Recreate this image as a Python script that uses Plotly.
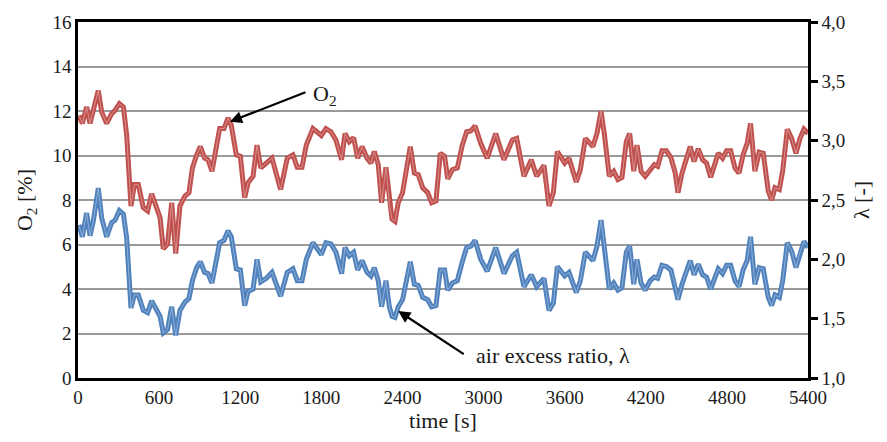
import plotly.graph_objects as go

time_s = [7, 32, 64, 89, 113, 150, 175, 212, 249, 274, 306, 336, 360, 392, 417, 446, 483, 515, 545, 582,
          607, 631, 663, 693, 723, 754, 791, 821, 846, 878, 905, 937, 962, 991, 1048, 1080, 1110, 1134, 1171, 1201,
          1233, 1258, 1295, 1324, 1352, 1393, 1435, 1499, 1548, 1590, 1622, 1657, 1689, 1738, 1800, 1834, 1871, 1908, 1950, 1975,
          2007, 2039, 2069, 2101, 2138, 2167, 2192, 2221, 2246, 2278, 2303, 2323, 2345, 2369, 2401, 2458, 2488, 2517, 2550, 2587,
          2616, 2648, 2680, 2712, 2735, 2769, 2806, 2843, 2875, 2905, 2937, 2979, 3027, 3090, 3151, 3213, 3245, 3299, 3353, 3393,
          3447, 3484, 3516, 3546, 3600, 3632, 3686, 3716, 3753, 3809, 3839, 3869, 3893, 3930, 3963, 3994, 4024, 4056, 4081, 4111,
          4135, 4165, 4196, 4233, 4263, 4288, 4320, 4352, 4386, 4418, 4438, 4468, 4500, 4529, 4557, 4588, 4620, 4650, 4680, 4736,
          4768, 4798, 4828, 4860, 4890, 4920, 4950, 4975, 5007, 5039, 5069, 5106, 5131, 5156, 5188, 5213, 5247, 5279, 5311, 5341,
          5370, 5400]

o2_pct = [11.8, 11.44, 12.18, 11.44, 12.03, 12.92, 11.96, 11.44, 11.88, 12.03, 12.33, 12.18, 10.92, 7.73, 8.7, 8.7, 7.66, 7.51, 8.28, 7.66,
          7.21, 5.81, 6.03, 7.88, 5.59, 7.73, 8.18, 8.33, 9.44, 10.03, 10.4, 9.88, 9.81, 9.29, 11.21, 11.21, 11.69, 11.36, 10.03, 9.96,
          8.1, 8.77, 9.07, 10.47, 9.44, 9.66, 9.88, 8.47, 9.88, 10.03, 9.47, 9.47, 10.47, 11.21, 10.9, 11.21, 11.07, 10.7, 9.81, 10.99,
          10.62, 10.8, 9.88, 10.4, 9.88, 9.66, 10.18, 9.59, 7.88, 9.47, 7.88, 7.14, 7.04, 7.88, 8.33, 10.4, 9.21, 9.14, 8.55, 8.33,
          7.88, 7.96, 10.1, 9.96, 8.95, 9.36, 9.44, 10.47, 11.07, 11.1, 11.33, 10.55, 9.88, 10.99, 9.81, 10.7, 10.77, 9.07, 9.81, 9.07,
          9.56, 7.73, 8.33, 10.18, 9.66, 9.88, 8.81, 9.36, 10.77, 10.4, 10.99, 11.99, 10.99, 9.07, 9.29, 8.92, 9.02, 10.62, 10.99, 9.29,
          10.47, 9.29, 9.07, 9.41, 9.59, 9.51, 10.21, 10.21, 9.91, 9.21, 8.33, 9.21, 9.81, 10.4, 9.73, 10.3, 9.81, 9.66, 9.02, 10.1,
          9.88, 10.21, 10.21, 9.44, 9.21, 10.03, 10.55, 11.44, 9.29, 10.15, 10.1, 8.4, 7.99, 8.55, 8.47, 9.32, 11.18, 10.77, 10.1, 10.77,
          11.18, 10.99]

air_excess = [2.29, 2.19, 2.39, 2.20, 2.32, 2.60, 2.35, 2.19, 2.31, 2.33, 2.41, 2.38, 2.18, 1.59, 1.70, 1.70, 1.57, 1.55, 1.65, 1.57,
              1.52, 1.38, 1.41, 1.60, 1.36, 1.57, 1.64, 1.67, 1.82, 1.93, 1.98, 1.89, 1.88, 1.80, 2.14, 2.16, 2.24, 2.19, 1.92, 1.91,
              1.61, 1.73, 1.75, 2.00, 1.81, 1.84, 1.89, 1.69, 1.89, 1.92, 1.82, 1.82, 2.00, 2.14, 2.04, 2.14, 2.13, 2.06, 1.88, 2.10,
              2.03, 2.06, 1.91, 1.99, 1.89, 1.86, 1.93, 1.82, 1.60, 1.82, 1.60, 1.52, 1.51, 1.60, 1.66, 1.98, 1.79, 1.78, 1.68, 1.66,
              1.60, 1.61, 1.91, 1.91, 1.74, 1.80, 1.82, 1.98, 2.10, 2.11, 2.16, 2.00, 1.90, 2.10, 1.88, 2.03, 2.06, 1.77, 1.87, 1.77,
              1.84, 1.57, 1.63, 1.94, 1.86, 1.89, 1.72, 1.82, 2.06, 1.99, 2.11, 2.33, 2.13, 1.75, 1.80, 1.74, 1.76, 2.06, 2.11, 1.79,
              2.00, 1.80, 1.74, 1.82, 1.85, 1.84, 1.95, 1.94, 1.91, 1.78, 1.66, 1.79, 1.89, 1.99, 1.87, 1.96, 1.87, 1.85, 1.75, 1.92,
              1.88, 1.95, 1.95, 1.82, 1.77, 1.91, 1.99, 2.19, 1.79, 1.93, 1.92, 1.68, 1.61, 1.70, 1.68, 1.82, 2.14, 2.07, 1.93, 2.06,
              2.15, 2.10]

x_ticks = [0, 600, 1200, 1800, 2400, 3000, 3600, 4200, 4800, 5400]
left_ticks = [0, 2, 4, 6, 8, 10, 12, 14, 16]
right_ticks = [1.0, 1.5, 2.0, 2.5, 3.0, 3.5, 4.0]
right_labels = ["1,0", "1,5", "2,0", "2,5", "3,0", "3,5", "4,0"]

RED = "#C0504D"
BLUE = "#4F81BD"
FONT = "Liberation Serif, Times New Roman, serif"

fig = go.Figure()
# O2 (left axis)
fig.add_trace(go.Scatter(x=time_s, y=o2_pct, mode="lines", line=dict(color=RED, width=5),
                         hoverinfo="skip", showlegend=False))
fig.add_trace(go.Scatter(x=time_s, y=o2_pct, mode="lines", line=dict(color="white", width=0.8),
                         opacity=0.45, hoverinfo="skip", showlegend=False))
# lambda (right axis)
fig.add_trace(go.Scatter(x=time_s, y=air_excess, mode="lines", line=dict(color=BLUE, width=5),
                         yaxis="y2", hoverinfo="skip", showlegend=False))
fig.add_trace(go.Scatter(x=time_s, y=air_excess, mode="lines", line=dict(color="white", width=0.8),
                         opacity=0.45, yaxis="y2", hoverinfo="skip", showlegend=False))

fig.update_layout(
    width=887, height=442,
    margin=dict(l=78, r=79, t=17, b=64),
    paper_bgcolor="white", plot_bgcolor="white",
    font=dict(family=FONT, size=18, color="#1a1a1a"),
    showlegend=False,
    xaxis=dict(range=[0, 5400], tickvals=x_ticks, ticktext=[str(v) for v in x_ticks],
               showgrid=False, zeroline=False, showline=True, linecolor="black", linewidth=2.5,
               mirror=True, ticks="", tickfont=dict(family=FONT, size=19),
               title=dict(text="time [s]", font=dict(family=FONT, size=22), standoff=2)),
    yaxis=dict(range=[0, 16], tickvals=left_ticks, showgrid=True, gridcolor="#9a9a9a", gridwidth=2,
               zeroline=False, showline=True, linecolor="black", linewidth=2.5, ticks="",
               tickfont=dict(family=FONT, size=19),
               title=dict(text="O<sub>2</sub> [%]", font=dict(family=FONT, size=22), standoff=14)),
    yaxis2=dict(range=[1, 4], overlaying="y", side="right", tickvals=right_ticks, ticktext=right_labels,
                showgrid=False, zeroline=False, showline=True, linecolor="black", linewidth=2.5,
                ticks="outside", ticklen=7, tickwidth=2.5, tickcolor="black",
                tickfont=dict(family=FONT, size=19),
                title=dict(text="λ [-]", font=dict(family=FONT, size=22), standoff=10)),
)

fig.add_annotation(x=1124, y=11.52, xref="x", yref="y", ax=77, ay=-30, text="",
                   showarrow=True, arrowhead=2, arrowsize=1.1, arrowwidth=2.2, arrowcolor="black")
fig.add_annotation(x=1827, y=12.72, xref="x", yref="y", text="O<sub>2</sub>", showarrow=False,
                   font=dict(family=FONT, size=22))
fig.add_annotation(x=2369, y=3.01, xref="x", yref="y", ax=67, ay=44, text="",
                   showarrow=True, arrowhead=2, arrowsize=1.1, arrowwidth=2.2, arrowcolor="black")
fig.add_annotation(x=3514, y=1.02, xref="x", yref="y", text="air excess ratio, λ", showarrow=False,
                   font=dict(family=FONT, size=22))

fig.write_html("out.html", config={"displayModeBar": False},
               post_script="document.body.style.margin='0';document.body.style.overflow='hidden';")
